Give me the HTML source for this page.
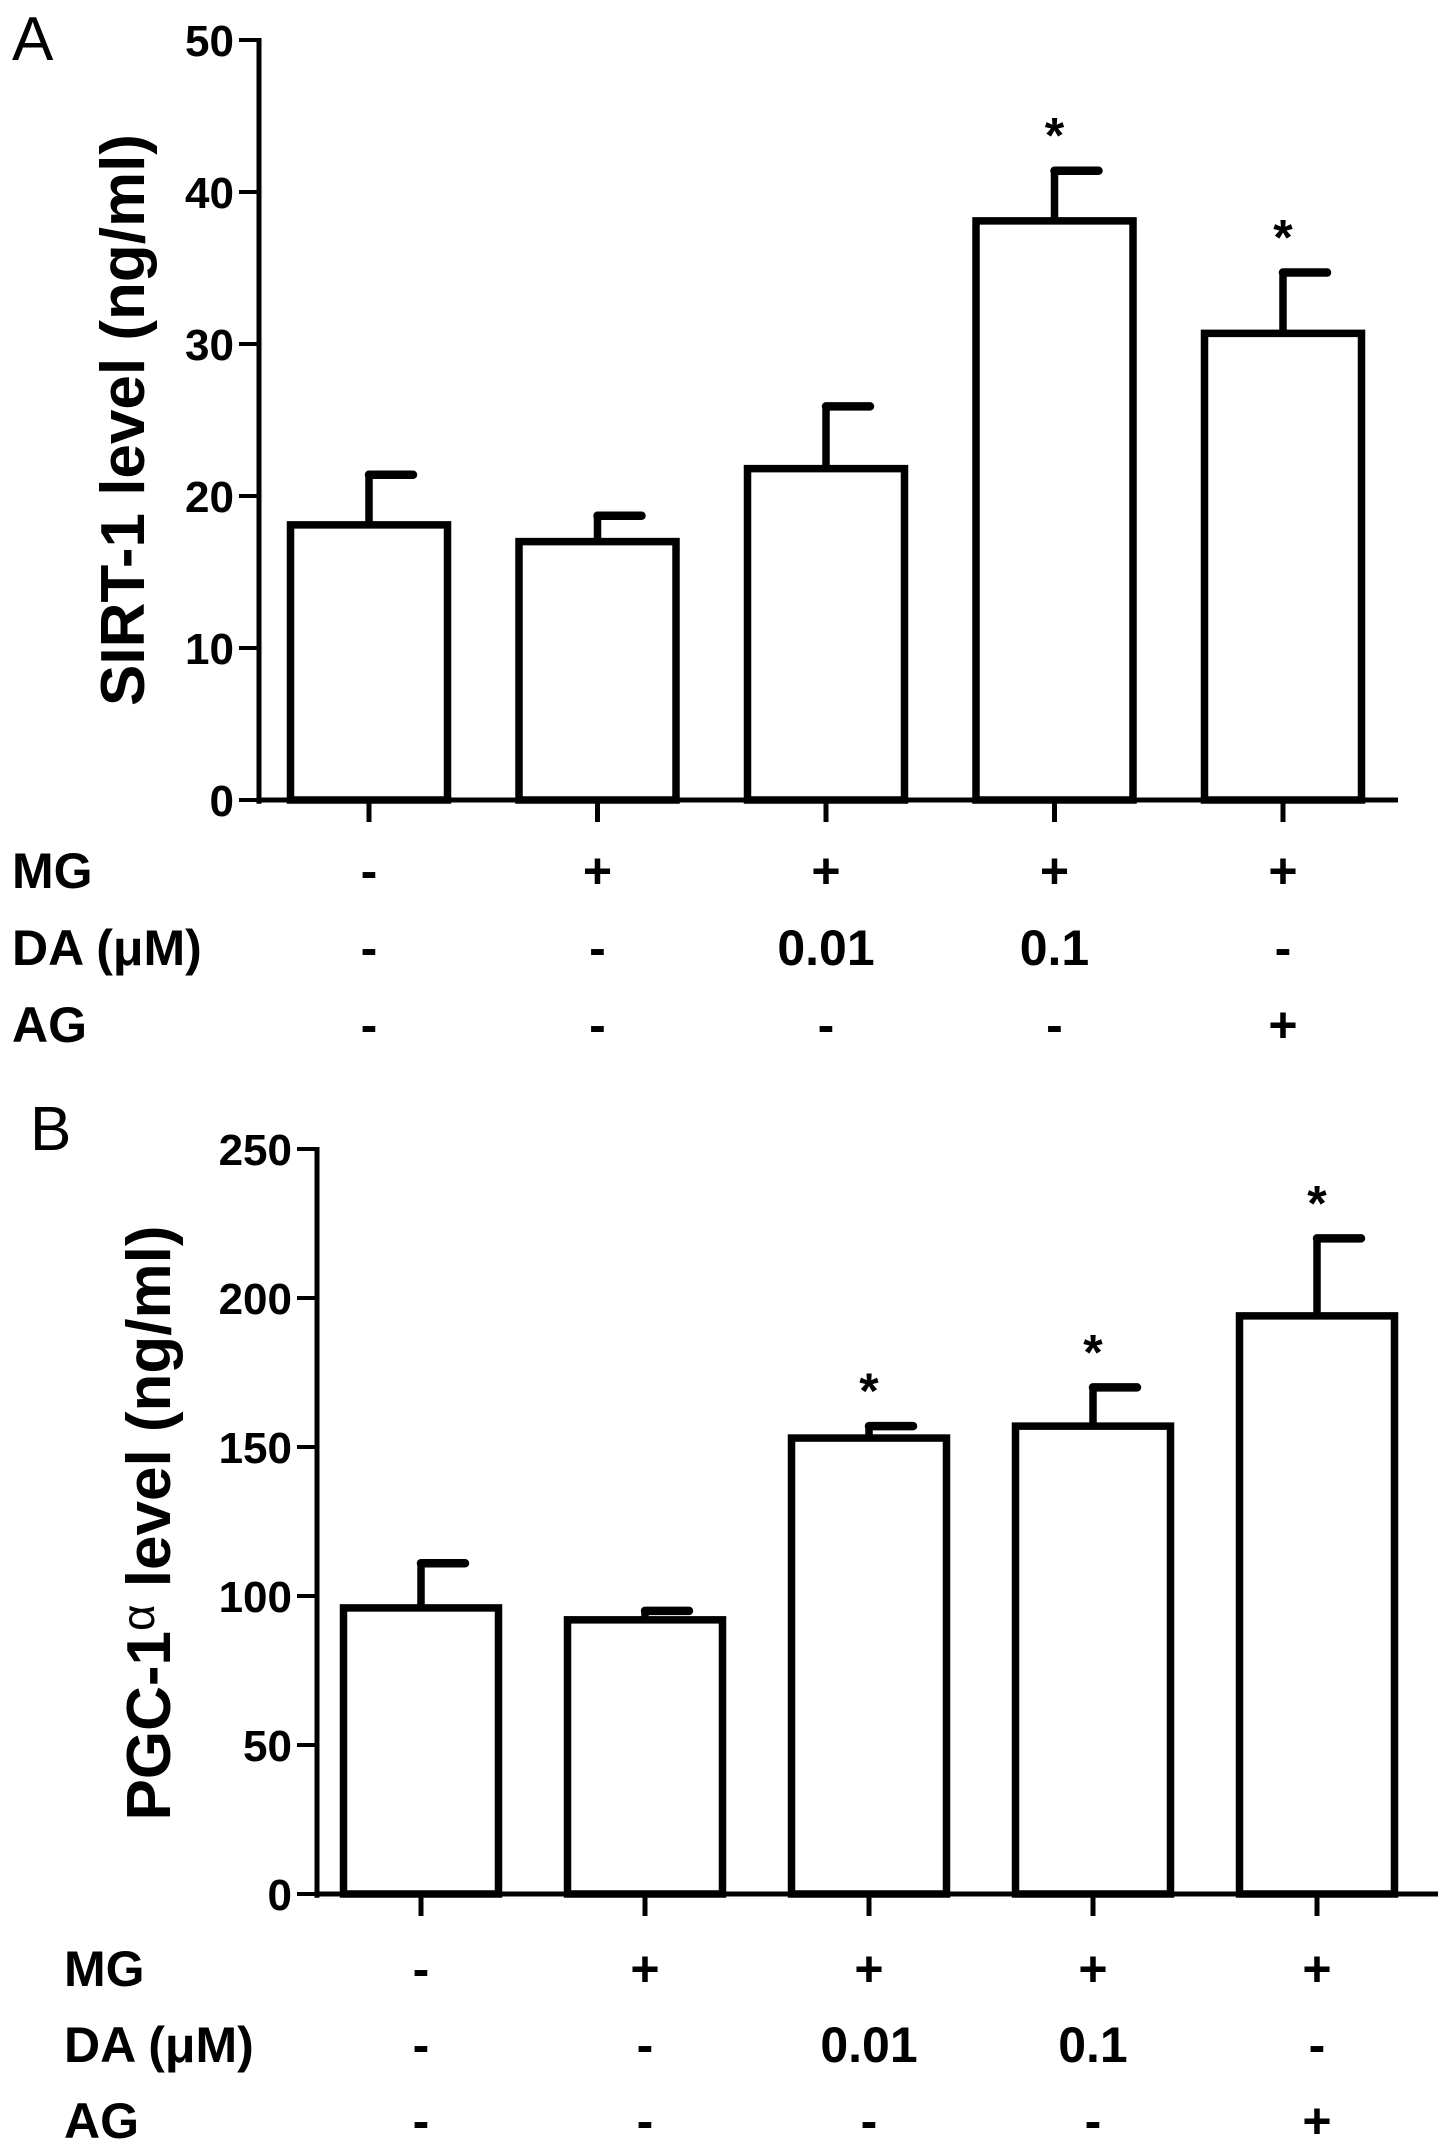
<!DOCTYPE html>
<html><head><meta charset="utf-8">
<style>
html,body{margin:0;padding:0;background:#fff;}
svg{display:block;font-family:"Liberation Sans",Arial,sans-serif;}
</style></head>
<body>
<svg id="chart" width="1441" height="2146" viewBox="0 0 1441 2146" xmlns="http://www.w3.org/2000/svg"></svg>
<script>
// Panel A data
const groupsA = ["ctrl","MG","MG+DA0.01","MG+DA0.1","MG+AG"];
const valuesA = [18.1, 17.0, 21.8, 38.1, 30.7];
const errorsA = [3.3, 1.7, 4.1, 3.3, 4.0];
const starsA = [false, false, false, true, true];
const ticksA = [0, 10, 20, 30, 40, 50];
// Panel B data
const valuesB = [96, 92, 153, 157, 194];
const errorsB = [15, 3, 4, 13, 26];
const starsB = [false, false, true, true, true];
const ticksB = [0, 50, 100, 150, 200, 250];
// condition table
const rowLabels = ["MG", "DA (\u03bcM)", "AG"];
const rowMG = ["-", "+", "+", "+", "+"];
const rowDA = ["-", "-", "0.01", "0.1", "-"];
const rowAG = ["-", "-", "-", "-", "+"];

const svg = document.getElementById('chart');
const NS = "http://www.w3.org/2000/svg";
function mk(tag, attrs, parent) {
  const e = document.createElementNS(NS, tag);
  for (const k in attrs) e.setAttribute(k, attrs[k]);
  (parent || svg).appendChild(e);
  return e;
}

function panel(cfg) {
  const g = mk('g', {});
  
  
  const ymax = cfg.ticks[cfg.ticks.length - 1];
  const y = v => cfg.y0 - (v / ymax) * (cfg.y0 - cfg.yTop);
  const x = i => cfg.c0 + i * cfg.step;
  const sw = 7.5;
  const L = mk('text', {x: cfg.letterX, y: cfg.letterY, 'font-size': 62, fill: '#000'}, g);
  L.textContent = cfg.letter;
  
  
  const ya = mk('line', {x1: cfg.ax, y1: cfg.yTop - 2, x2: cfg.ax, y2: cfg.y0 + sw/2, stroke: '#000', 'stroke-width': 5}, g);
  
  
  cfg.ticks.forEach(t => {
    const tk = mk('line', {x1: cfg.ax - 20, y1: y(t), x2: cfg.ax, y2: y(t), stroke: '#000', 'stroke-width': 4}, g);
    
    
    const tl = mk('text', {x: cfg.ax - 25, y: y(t) + 16, 'font-size': 44, 'font-weight': 'bold', 'text-anchor': 'end', fill: '#000'}, g);
    tl.textContent = t;
    
    
  });
  const xa = mk('line', {x1: cfg.ax, y1: cfg.y0, x2: cfg.xEnd, y2: cfg.y0, stroke: '#000', 'stroke-width': 5}, g);
  
  
  const yt = mk('text', {x: 0, y: 0, 'font-size': 62, 'font-weight': 'bold', 'text-anchor': 'middle', fill: '#000',
    transform: `translate(${cfg.titleX},${cfg.titleY}) rotate(-90)`}, g);
  yt.innerHTML = cfg.title;
  
  
  cfg.values.forEach((v, i) => {
    const cx = x(i);
    const bw = cfg.bw;
    const top = y(v);
    const et = y(v + cfg.errors[i]);
    const eb = mk('line', {x1: cx, y1: top, x2: cx, y2: et, stroke: '#000', 'stroke-width': sw}, g);
    
    
    const cap = mk('line', {x1: cx, y1: et, x2: cx + 44, y2: et, stroke: '#000', 'stroke-width': sw + 1, 'stroke-linecap': 'round'}, g);
    
    
    const r = mk('rect', {x: cx - bw/2, y: top, width: bw, height: cfg.y0 - top, fill: '#fff', stroke: '#000', 'stroke-width': sw}, g);
    
    
    const tk = mk('line', {x1: cx, y1: cfg.y0, x2: cx, y2: cfg.y0 + 22, stroke: '#000', 'stroke-width': 5}, g);
    
    
    if (cfg.stars[i]) {
      const s = mk('text', {x: cx, y: et - 18, 'font-size': 50, 'font-weight': 'bold', 'text-anchor': 'middle', fill: '#000'}, g);
      s.textContent = '*';
      
      
    }
  });
  const rows = [rowMG, rowDA, rowAG];
  rows.forEach((row, r) => {
    const by = cfg.rowY[r];
    const lab = mk('text', {x: cfg.labX, y: by, 'font-size': 50, 'font-weight': 'bold', fill: '#000'}, g);
    lab.textContent = rowLabels[r];
    
    
    row.forEach((t, i) => {
      const c = mk('text', {x: x(i), y: by, 'font-size': 50, 'font-weight': 'bold', 'text-anchor': 'middle', fill: '#000'}, g);
      c.textContent = t;
      
      
    });
  });
}

panel({name: 'panel-a', letter: 'A', letterX: 12, letterY: 60, ax: 259, yTop: 40, y0: 800, xEnd: 1398,
  c0: 369, step: 228.5, bw: 157, ticks: ticksA, values: valuesA, errors: errorsA, stars: starsA,
  title: 'SIRT-1 level (ng/ml)', titleX: 144, titleY: 420, rowY: [888, 965, 1042], labX: 12});
panel({name: 'panel-b', letter: 'B', letterX: 30, letterY: 1150, ax: 317, yTop: 1149, y0: 1894, xEnd: 1438,
  c0: 421, step: 224, bw: 155, ticks: ticksB, values: valuesB, errors: errorsB, stars: starsB,
  title: 'PGC-1<tspan font-weight="normal" font-size="46" dy="-16">\u03b1</tspan><tspan dy="16"> level (ng/ml)</tspan>',
  titleX: 170, titleY: 1523, rowY: [1986, 2062, 2138], labX: 64});
</script>
</body></html>
